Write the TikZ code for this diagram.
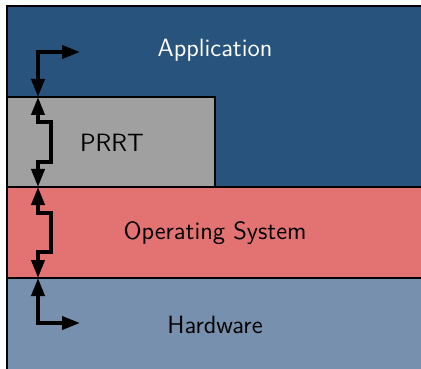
\documentclass[tikz,border=0pt]{standalone}
\usetikzlibrary{arrows.meta}
\definecolor{appblue}{RGB}{39,83,125}
\definecolor{prrtgray}{RGB}{160,160,160}
\definecolor{osred}{RGB}{227,115,115}
\definecolor{hwblue}{RGB}{118,144,174}
\tikzset{
  layer/.style={draw=black, line width=1pt},
  layertext/.style={font=\sffamily\fontsize{12.5}{15}\selectfont, inner sep=0pt},
  flow/.style={line width=1.9pt, {Triangle[length=9pt,width=6.5pt]}-{Triangle[length=9pt,width=6.5pt]}}
}
\begin{document}
\begin{tikzpicture}[x=0.5pt,y=-0.5pt]
  \useasboundingbox (0,0) rectangle (421,368);
  \clip (0,0) rectangle (421,368);
  % stacked layers
  \draw[layer, fill=appblue] (7,6) rectangle (440,187);
  \draw[layer, fill=prrtgray] (7,97) rectangle (215,187);
  \draw[layer, fill=osred] (7,187) rectangle (440,278);
  \draw[layer, fill=hwblue] (7,278) rectangle (440,400);
  % labels
  \node[layertext, text=white] (apptxt) at (215,50) {Application};
  \node[layertext] (prrttxt) at (112,143) {PRRT};
  \node[layertext] (ostxt) at (215,233) {Operating System};
  \node[layertext] (hwtxt) at (215,325) {Hardware};
  % interfaces between layers
  \coordinate (appout) at (80,52);
  \coordinate (prrttop) at (38,97);
  \coordinate (ostop) at (38,187);
  \coordinate (hwtop) at (38,278);
  \coordinate (hwout) at (80,323);
  % data paths
  \draw[flow] (appout) -| (prrttop);
  \draw[flow] (prrttop) -- (38,122) -- (51,122) -- (51,162) -- (38,162) -- (ostop);
  \draw[flow] (ostop) -- (38,213) -- (51,213) -- (51,252) -- (38,252) -- (hwtop);
  \draw[flow] (hwtop) |- (hwout);
\end{tikzpicture}
\end{document}
